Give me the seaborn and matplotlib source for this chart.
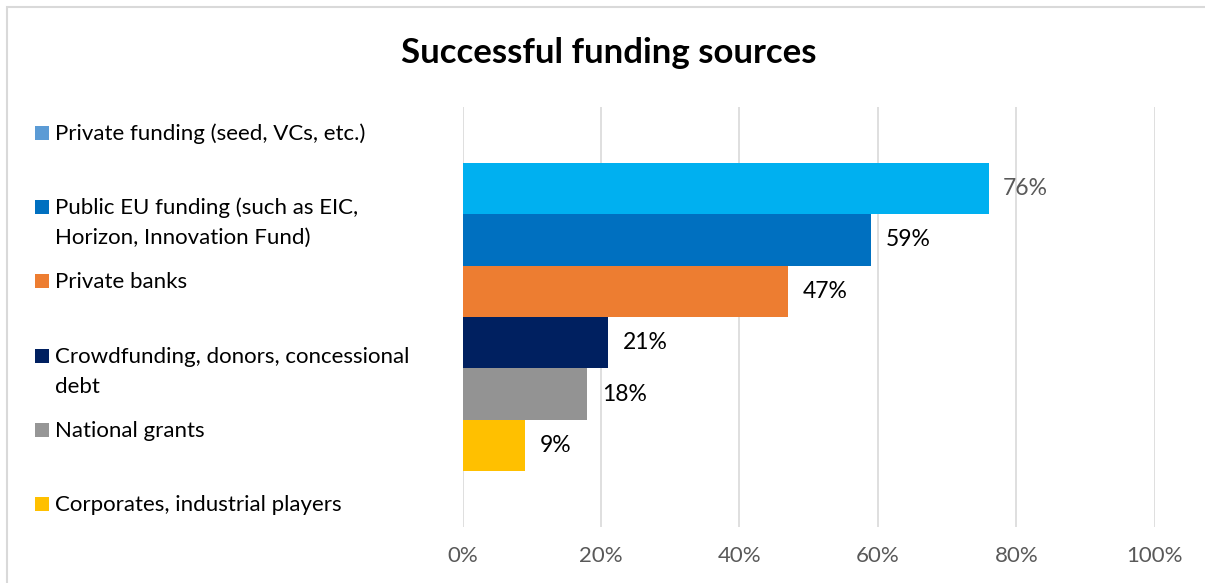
import matplotlib
matplotlib.use("Agg")
import matplotlib.pyplot as plt
from matplotlib.patches import Rectangle
from matplotlib.ticker import PercentFormatter
import pandas as pd
import seaborn as sns

# Funding sources and the share of respondents who obtained each
categories = [
    "Private funding (seed, VCs, etc.)",
    "Public EU funding (such as EIC,\nHorizon, Innovation Fund)",
    "Private banks",
    "Crowdfunding, donors, concessional\ndebt",
    "National grants",
    "Corporates, industrial players",
]
shares = [0.76, 0.59, 0.47, 0.21, 0.18, 0.09]
bar_colors = ["#00B0F0", "#0070C0", "#ED7D31", "#002060", "#939393", "#FFC000"]
key_colors = ["#5B9BD5", "#0070C0", "#ED7D31", "#002060", "#969696", "#FFC000"]
x_ticks = [0.0, 0.2, 0.4, 0.6, 0.8, 1.0]

df = pd.DataFrame({"source": categories, "share": shares})

sns.set_theme(style="white")
plt.rcParams["font.family"] = ["Lato", "DejaVu Sans"]

W, H = 1205, 583
fig = plt.figure(figsize=(W / 100, H / 100), dpi=100)
fig.patch.set_facecolor("white")

# outer chart frame (left and top edges visible)
fig.patches.append(Rectangle((6.7 / W, -0.1), 1.2, 1.1 - 7.5 / H,
                             transform=fig.transFigure, fill=False,
                             edgecolor="#D9D9D9", linewidth=1.5))

ax = fig.add_axes([462.5 / W, 56 / H, (1154.7 - 462.5) / W, 420 / H])
sns.barplot(data=df, y="source", x="share", hue="source",
            palette=dict(zip(categories, bar_colors)), order=categories,
            hue_order=categories, orient="h", width=1.0, legend=False,
            saturation=1.0, linewidth=0, edgecolor="none", ax=ax)

ax.set_ylim(5.5 + 1.09, -0.5 - 1.09)
ax.set_xlim(0, 1)
ax.set_xticks(x_ticks)
ax.xaxis.set_major_formatter(PercentFormatter(1.0, decimals=0))
ax.set_yticks([])
ax.set_xlabel("")
ax.set_ylabel("")
for s in ax.spines.values():
    s.set_visible(False)
ax.grid(axis="x", color="#D9D9D9", linewidth=1.2)
ax.grid(axis="y", visible=False)
ax.set_axisbelow(True)
ax.tick_params(axis="x", length=0, pad=14, labelsize=16, labelcolor="#595959")

# value labels at the end of each bar
for i, cont in enumerate(ax.containers):
    ax.bar_label(cont, labels=[f"{shares[i]:.0%}"], padding=10.5,
                 fontsize=16.5, color="#595959" if i == 0 else "#000000")

# legend drawn as a vertical key on the left, one text line per row
base0, step, line_gap = 140, 74.2, 30
for i, (lab, col) in enumerate(zip(categories, key_colors)):
    yb = base0 + i * step
    fig.patches.append(Rectangle((35 / W, 1 - yb / H), 14 / W, 14 / H,
                                 transform=fig.transFigure,
                                 facecolor=col, edgecolor="none"))
    for k, line in enumerate(lab.split("\n")):
        fig.text(55 / W, 1 - (yb + k * line_gap) / H, line, ha="left",
                 va="baseline", fontsize=16, color="#000000")

fig.text(609 / W, 1 - 53 / H, "Successful funding sources", ha="center",
         va="center", fontsize=25, fontweight="bold", color="#000000")

fig.savefig("out.png", dpi=100, facecolor="white")
